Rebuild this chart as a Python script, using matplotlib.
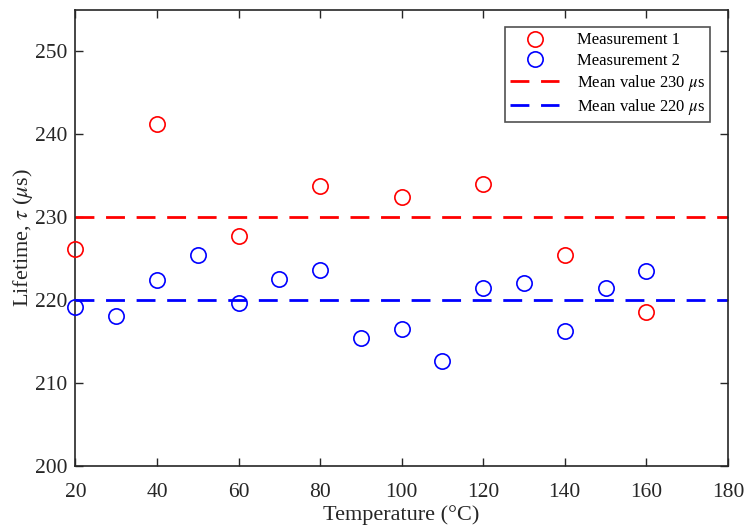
import matplotlib.pyplot as plt
import numpy as np

plt.rcParams['font.family'] = ['Liberation Serif', 'DejaVu Serif']
plt.rcParams['mathtext.fontset'] = 'stix'

temp1 = [20, 40, 60, 80, 100, 120, 140, 160]
tau1 = [226.2, 241.2, 227.7, 233.8, 232.4, 234.0, 225.5, 218.6]

temp2 = [20, 30, 40, 50, 60, 70, 80, 90, 100, 110, 120, 130, 140, 150, 160]
tau2 = [219.2, 218.1, 222.4, 225.5, 219.7, 222.6, 223.7, 215.4, 216.5,
        212.7, 221.5, 222.1, 216.3, 221.5, 223.5]

mean1 = 230
mean2 = 220

fig = plt.figure(figsize=(7.45, 5.26), dpi=100)
ax = fig.add_axes([0.1013, 0.114, 0.8757, 0.867])

ax.plot(temp1, tau1, 'o', mfc='none', mec='red', ms=11, mew=1.2,
        clip_on=False, zorder=3, label='Measurement 1')
ax.plot(temp2, tau2, 'o', mfc='none', mec='blue', ms=11, mew=1.2,
        clip_on=False, zorder=3, label='Measurement 2')
ax.axhline(mean1, color='red', lw=2, dashes=(6.8, 4.2), label=r'Mean value 230 $\mu$s')
ax.axhline(mean2, color='blue', lw=2, dashes=(6.8, 4.2), label=r'Mean value 220 $\mu$s')

ax.set_xlim(20, 180)
ax.set_ylim(200, 255)
ax.set_xticks(np.arange(20, 181, 20))
ax.set_yticks(np.arange(200, 251, 10))
ax.tick_params(direction='in', top=True, right=True, labelsize=15.5,
               colors='#262626', length=6, width=1)
ax.tick_params(axis='x', pad=12)
ax.tick_params(axis='y', pad=6)
for s in ax.spines.values():
    s.set_color('#262626')
    s.set_linewidth(1.2)

ax.set_xlabel('Temperature (°C)', fontsize=16, color='#262626', labelpad=2.5)
ax.set_ylabel(r'Lifetime, $\tau$ ($\mu$s)', fontsize=16, color='#262626', labelpad=0)

leg = ax.legend(loc='upper right', fontsize=12, frameon=True, fancybox=False,
                edgecolor='#262626', handlelength=2.95, borderaxespad=1.05,
                borderpad=0.3, labelspacing=0.25, handletextpad=1.1)
leg.get_frame().set_linewidth(1.2)

fig.savefig('out.png', dpi=100)
